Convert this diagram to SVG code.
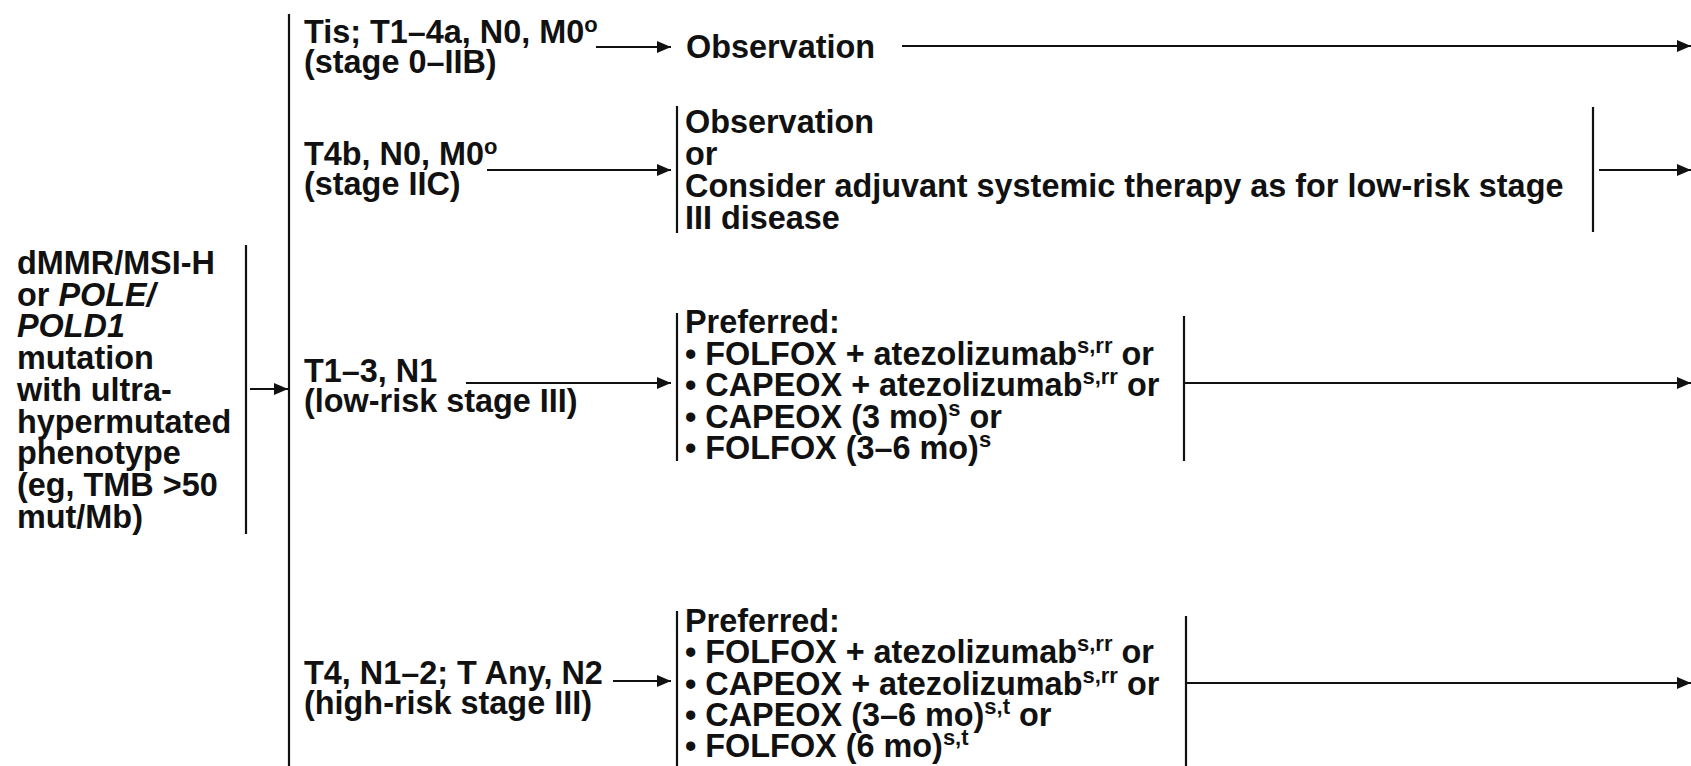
<svg xmlns="http://www.w3.org/2000/svg" width="1691" height="766" viewBox="0 0 1691 766">
<defs>
<marker id="ah" markerUnits="userSpaceOnUse" markerWidth="14" markerHeight="12" refX="14" refY="6" orient="auto">
<path d="M0,0 L14,6 L0,12 Z" fill="#111"/>
</marker>
<style>
text{font-family:"Liberation Sans",Arial,Helvetica,sans-serif;font-weight:bold;font-size:32.4px;fill:#111}
.sup{font-size:22px}
.ln{stroke:#111;stroke-width:2.2;fill:none}
.ar{stroke:#111;stroke-width:2.2;fill:none;marker-end:url(#ah)}
</style>
</defs>
<rect width="1691" height="766" fill="#fff"/>

<g id="connectors">
<line class="ln" x1="246" y1="245" x2="246" y2="534"/>
<line class="ar" x1="250" y1="389" x2="288" y2="389"/>
<line class="ln" x1="289" y1="14" x2="289" y2="766"/>
<line class="ar" x1="596" y1="47" x2="671" y2="47"/>
<line class="ar" x1="902" y1="46" x2="1691" y2="46"/>
<line class="ar" x1="487" y1="170" x2="671" y2="170"/>
<line class="ln" x1="677" y1="106" x2="677" y2="233"/>
<line class="ln" x1="1593" y1="107" x2="1593" y2="232"/>
<line class="ar" x1="1599" y1="170" x2="1691" y2="170"/>
<line class="ar" x1="466" y1="383" x2="671" y2="383"/>
<line class="ln" x1="677" y1="313" x2="677" y2="461"/>
<line class="ln" x1="1184" y1="316" x2="1184" y2="461"/>
<line class="ar" x1="1184" y1="383" x2="1691" y2="383"/>
<line class="ar" x1="613" y1="681" x2="671" y2="681"/>
<line class="ln" x1="677" y1="611" x2="677" y2="766"/>
<line class="ln" x1="1186" y1="616" x2="1186" y2="766"/>
<line class="ar" x1="1186" y1="683" x2="1691" y2="683"/>
</g>

<g id="node-patient">
<text x="17" y="274">dMMR/MSI-H</text>
<text x="17" y="305.7">or <tspan font-style="italic">POLE/</tspan></text>
<text x="17" y="337.4" font-style="italic">POLD1</text>
<text x="17" y="369.1">mutation</text>
<text x="17" y="400.8">with ultra-</text>
<text x="17" y="432.5">hypermutated</text>
<text x="17" y="464.2">phenotype</text>
<text x="17" y="495.9">(eg, TMB &gt;50</text>
<text x="17" y="527.6">mut/Mb)</text>
</g>

<g id="node-stage0-IIB">
<text x="304" y="43">Tis; T1–4a, N0, M0<tspan class="sup" dy="-11">o</tspan></text>
<text x="304" y="73">(stage 0–IIB)</text>
</g>
<g id="node-observation">
<text x="686" y="58">Observation</text>
</g>

<g id="node-stageIIC">
<text x="304" y="165">T4b, N0, M0<tspan class="sup" dy="-11">o</tspan></text>
<text x="304" y="195">(stage IIC)</text>
</g>
<g id="node-IIC-options">
<text x="685" y="133">Observation</text>
<text x="685" y="165">or</text>
<text x="685" y="197">Consider adjuvant systemic therapy as for low-risk stage</text>
<text x="685" y="229">III disease</text>
</g>

<g id="node-low-risk">
<text x="304" y="382">T1–3, N1</text>
<text x="304" y="412">(low-risk stage III)</text>
</g>
<g id="node-low-risk-options">
<text x="685" y="333">Preferred:</text>
<text x="685" y="364.5">• FOLFOX + atezolizumab<tspan class="sup" dy="-12">s,rr</tspan><tspan dy="12"> or</tspan></text>
<text x="685" y="396">• CAPEOX + atezolizumab<tspan class="sup" dy="-12">s,rr</tspan><tspan dy="12"> or</tspan></text>
<text x="685" y="427.5">• CAPEOX (3 mo)<tspan class="sup" dy="-12">s</tspan><tspan dy="12"> or</tspan></text>
<text x="685" y="459">• FOLFOX (3–6 mo)<tspan class="sup" dy="-12">s</tspan></text>
</g>

<g id="node-high-risk">
<text x="304" y="684">T4, N1–2; T Any, N2</text>
<text x="304" y="714">(high-risk stage III)</text>
</g>
<g id="node-high-risk-options">
<text x="685" y="632">Preferred:</text>
<text x="685" y="663">• FOLFOX + atezolizumab<tspan class="sup" dy="-12">s,rr</tspan><tspan dy="12"> or</tspan></text>
<text x="685" y="694.5">• CAPEOX + atezolizumab<tspan class="sup" dy="-12">s,rr</tspan><tspan dy="12"> or</tspan></text>
<text x="685" y="726">• CAPEOX (3–6 mo)<tspan class="sup" dy="-12">s,t</tspan><tspan dy="12"> or</tspan></text>
<text x="685" y="757">• FOLFOX (6 mo)<tspan class="sup" dy="-12">s,t</tspan></text>
</g>
</svg>
